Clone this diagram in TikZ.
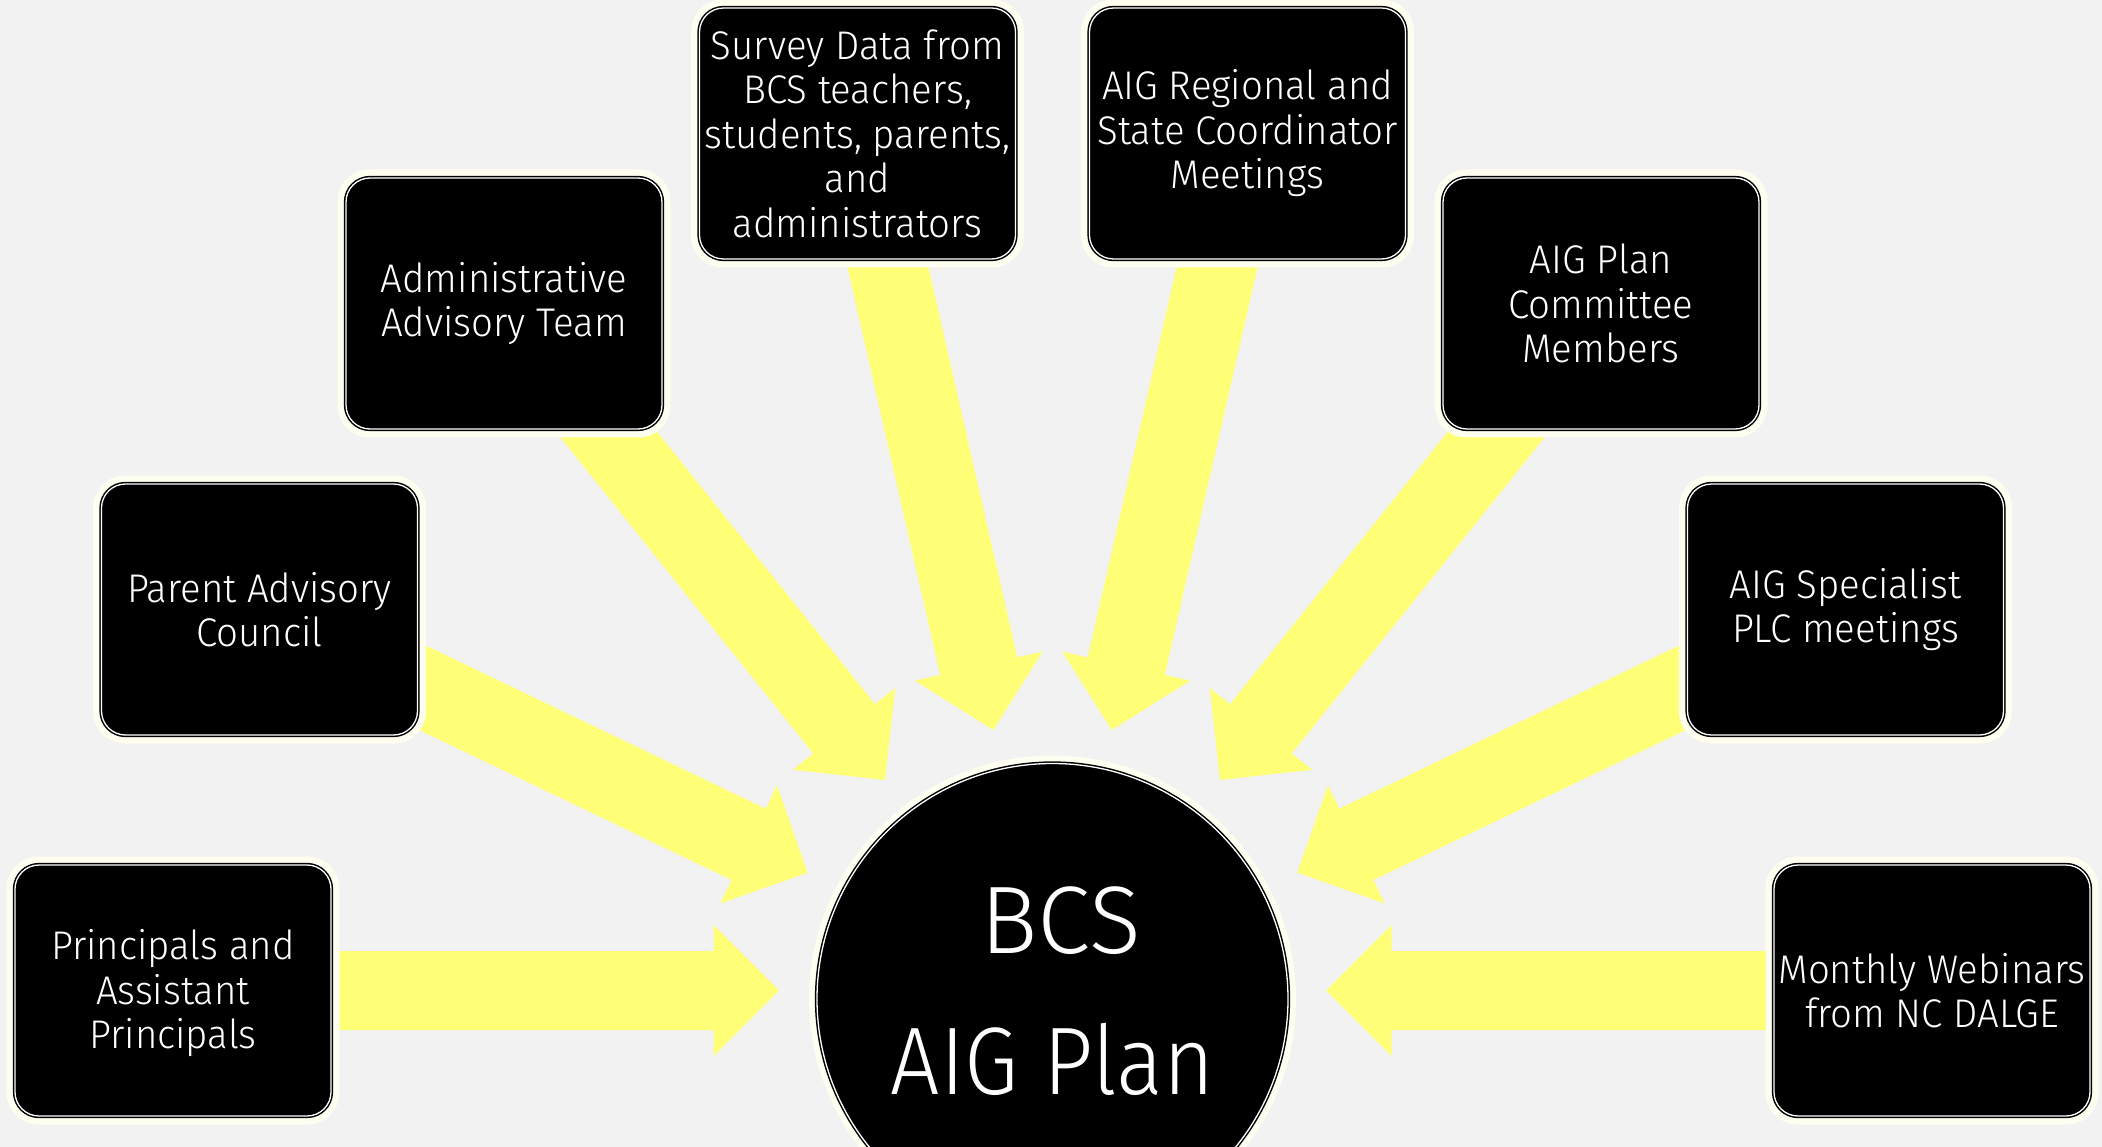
\documentclass[tikz,border=0pt]{standalone}
\usepackage{fontspec}
\IfFontExistsTF{Fira Sans Light}{%
  \setmainfont{Fira Sans Light}
  \newfontfamily\boxfont{Fira Sans Light}[FakeStretch=0.96]
  \newfontfamily\hubfont{Fira Sans Light}
  \newfontfamily\hubnarrow{Fira Sans Light}[FakeStretch=0.91]
}{%
  \setmainfont{Fira Sans}
  \newfontfamily\boxfont{Fira Sans}[FakeStretch=0.94]
  \newfontfamily\hubfont{Fira Sans}
  \newfontfamily\hubnarrow{Fira Sans}[FakeStretch=0.9]
}
\usetikzlibrary{calc}
\definecolor{bgc}{HTML}{F2F2F2}
\definecolor{arrowc}{HTML}{FFFF77}
\definecolor{glowc}{HTML}{FEFEF0}
\pgfdeclarelayer{back}
\pgfdeclarelayer{arrows}
\pgfdeclarelayer{glow}
\pgfsetlayers{back,arrows,glow,main}
\tikzset{
  srcbox/.style={rectangle, rounded corners=24pt, minimum width=316pt, minimum height=251pt,
    inner sep=0pt, outer sep=0pt, fill=black, draw=black, line width=1.5pt,
    double=white, double distance=1.3pt, text=white, align=center,
    font=\boxfont\fontsize{40}{44.5}\selectfont},
  hub/.style={circle, minimum size=471pt, inner sep=0pt, outer sep=0pt, fill=black,
    draw=black, line width=1.5pt, double=white, double distance=1.3pt},
  hubtext/.style={text=white, align=center, inner sep=0pt,
    font=\hubfont\fontsize{96}{141}\selectfont},
}
\newcommand\glowbox[1]{\fill[glowc, rounded corners=32pt]
  ([shift={(-8.5pt,8.5pt)}]#1.north west) rectangle ([shift={(8.5pt,-8.5pt)}]#1.south east);}
\newcommand\blockarrow[2]{\fill[arrowc] let \p1=($(#2)-(#1.center)$), \n1={atan2(\y1,\x1)} in
  ($(#1.center)+(\n1+90:39.5pt)$)
  -- ($(#2)+(\n1+180:65.5pt)+(\n1+90:39.5pt)$)
  -- ($(#2)+(\n1+180:65.5pt)+(\n1+90:65.5pt)$)
  -- (#2)
  -- ($(#2)+(\n1+180:65.5pt)+(\n1-90:65.5pt)$)
  -- ($(#2)+(\n1+180:65.5pt)+(\n1-90:39.5pt)$)
  -- ($(#1.center)+(\n1-90:39.5pt)$) -- cycle;}
\begin{document}
\begin{tikzpicture}[x=1pt,y=-1pt]
\useasboundingbox (0,0) rectangle (2102,1147);
\begin{pgfonlayer}{back}
  \fill[bgc] (0,0) rectangle (2102,1147);
\end{pgfonlayer}
% hub
\node[hub] (hub) at (1052.5,999) {};
\node[hubtext] (hubtxt) at (1052.5,991) {\hspace*{16pt}BCS\\{\hubnarrow AIG Plan}};
% source boxes
\node[srcbox] (b1) at (173,990.5) {\rule{0pt}{36pt}Principals and\\Assistant\\Principals};
\node[srcbox] (b2) at (259.5,609.5) {Parent Advisory\\Council};
\node[srcbox] (b3) at (504,303.5) {Administrative\\Advisory Team};
\node[srcbox] (b4) at (857.5,133.5) {Survey Data from\\BCS teachers,\\students, parents,\\and\\administrators};
\node[srcbox] (b5) at (1247.5,133.5) {AIG Regional and\\State Coordinator\\Meetings};
\node[srcbox] (b6) at (1601,303.5) {AIG Plan\\Committee\\Members};
\node[srcbox] (b7) at (1845.5,609.5) {AIG Specialist\\PLC meetings};
\node[srcbox] (b8) at (1932,990.5) {Monthly Webinars\\from NC DALGE};
% arrow tips
\coordinate (t1) at (779,990.5);
\coordinate (t2) at (807.7,872.7);
\coordinate (t3) at (885,780);
\coordinate (t4) at (993.3,730);
\coordinate (t5) at (1111.7,730);
\coordinate (t6) at (1220,780);
\coordinate (t7) at (1297.3,872.7);
\coordinate (t8) at (1326,990.5);
\begin{pgfonlayer}{glow}
  \fill[glowc] (hub.center) circle (243.5pt);
  \glowbox{b1}\glowbox{b2}\glowbox{b3}\glowbox{b4}
  \glowbox{b5}\glowbox{b6}\glowbox{b7}\glowbox{b8}
\end{pgfonlayer}
\begin{pgfonlayer}{arrows}
  \blockarrow{b1}{t1}\blockarrow{b2}{t2}\blockarrow{b3}{t3}\blockarrow{b4}{t4}
  \blockarrow{b5}{t5}\blockarrow{b6}{t6}\blockarrow{b7}{t7}\blockarrow{b8}{t8}
\end{pgfonlayer}
\end{tikzpicture}
\end{document}
